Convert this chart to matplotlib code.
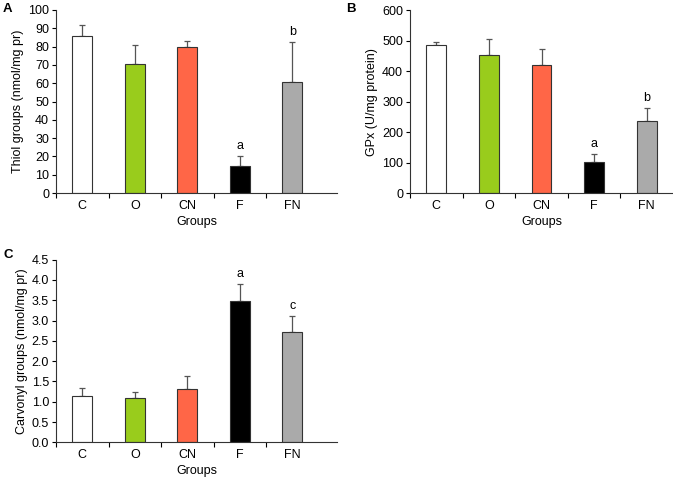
import matplotlib
matplotlib.use("Agg")
import matplotlib.pyplot as plt
import numpy as np

plt.rcParams['font.family'] = ['Liberation Sans', 'DejaVu Sans']
plt.rcParams['font.size'] = 9

groups = ['C', 'O', 'CN', 'F', 'FN']
bar_colors = ['white', '#99cc1c', '#ff6647', 'black', '#aaaaaa']

thiol = [86, 70.5, 80, 14.5, 60.5]
thiol_err = [6, 10.5, 3, 5.5, 22]
thiol_marks = ['', '', '', 'a', 'b']

gpx = [487, 455, 420, 103, 236]
gpx_err = [8, 52, 55, 24, 42]
gpx_marks = ['', '', '', 'a', 'b']

carbonyl = [1.15, 1.08, 1.31, 3.48, 2.72]
carbonyl_err = [0.2, 0.17, 0.33, 0.42, 0.4]
carbonyl_marks = ['', '', '', 'a', 'c']

W, H = 673, 478
fig = plt.figure(figsize=(W / 100, H / 100), dpi=100)


def panel(rect, vals, errs, marks, ylim, yticks, ylabel, fmt):
    ax = fig.add_axes(rect)
    x = np.arange(len(groups))
    ax.bar(x, vals, width=0.38, color=bar_colors, edgecolor='#333333', linewidth=0.8, zorder=2)
    ax.errorbar(x, vals, yerr=[np.zeros(len(vals)), errs], fmt='none', ecolor='#555555',
                elinewidth=0.9, capsize=2.5, capthick=0.9, zorder=1)
    off = (ylim[1] - ylim[0]) * 0.022
    for xi, v, e, m in zip(x, vals, errs, marks):
        if m:
            ax.text(xi, v + e + off, m, ha='center', va='bottom', fontsize=9)
    ax.set_xlim(-0.5, 4.85)
    ax.set_ylim(*ylim)
    ax.set_yticks(yticks)
    ax.set_yticklabels([fmt.format(t) for t in yticks])
    ax.set_xticks(np.arange(-0.5, 4, 1.0))
    ax.set_xticklabels([])
    ax.set_xticks(x, minor=True)
    ax.set_xticklabels(groups, minor=True)
    ax.tick_params(axis='x', which='minor', length=0, pad=5)
    ax.tick_params(axis='x', which='major', length=3.5, width=0.8, direction='out')
    ax.tick_params(axis='y', length=3, width=0.8, direction='out', pad=2)
    for s in ['top', 'right']:
        ax.spines[s].set_visible(False)
    for s in ['left', 'bottom']:
        ax.spines[s].set_linewidth(0.8)
        ax.spines[s].set_color('#333333')
    ax.set_ylabel(ylabel, fontsize=9, labelpad=3)
    ax.set_xlabel('Groups', fontsize=9, labelpad=3)
    return ax


a = panel([56 / W, 1 - 193 / H, 281 / W, 183 / H], thiol, thiol_err, thiol_marks,
          (0, 100), np.arange(0, 101, 10), 'Thiol groups (nmol/mg pr)', '{:.0f}')
b = panel([410 / W, 1 - 193 / H, 263 / W, 182.5 / H], gpx, gpx_err, gpx_marks,
          (0, 600), np.arange(0, 601, 100), 'GPx (U/mg protein)', '{:.0f}')
b.set_xlim(-0.5, 4.5)
c = panel([56 / W, 1 - 442.3 / H, 281 / W, 182.6 / H], carbonyl, carbonyl_err, carbonyl_marks,
          (0, 4.5), np.arange(0, 4.51, 0.5), 'Carvonyl groups (nmol/mg pr)', '{:.1f}')

fig.text(3 / W, 1 - 9 / H, 'A', fontsize=9.5, fontweight='bold', va='center', ha='left')
fig.text(346 / W, 1 - 9 / H, 'B', fontsize=9.5, fontweight='bold', va='center', ha='left')
fig.text(3 / W, 1 - 255 / H, 'C', fontsize=9.5, fontweight='bold', va='center', ha='left')

fig.savefig('out.png', dpi=100)
